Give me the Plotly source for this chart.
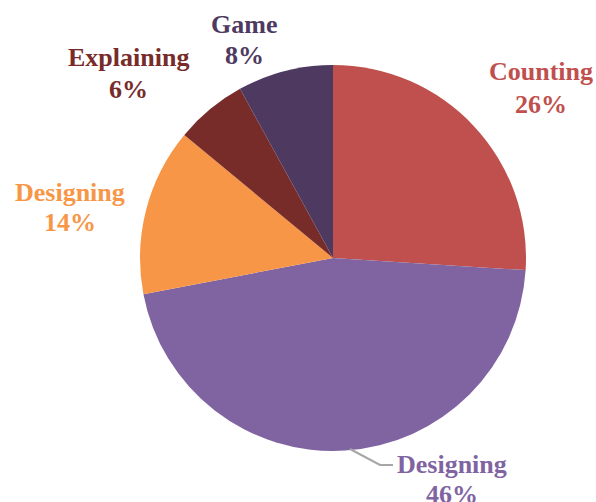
import plotly.graph_objects as go

labels = ["Counting", "Designing", "Designing", "Explaining", "Game"]
values = [26, 46, 14, 6, 8]
colors = ["#C0504D", "#8064A2", "#F79646", "#772C2A", "#4E3A60"]

W, H = 596, 502
cx, cy, r = 333, 258, 193

fig = go.Figure(go.Pie(
    labels=[f"{l} {i}" for i, l in enumerate(labels)],
    values=values,
    sort=False,
    direction="clockwise",
    rotation=0,
    marker=dict(colors=colors, line=dict(width=0)),
    textinfo="none",
    hoverinfo="label+percent",
    showlegend=False,
    domain=dict(x=[(cx - r) / W, (cx + r) / W], y=[(H - cy - r) / H, (H - cy + r) / H]),
))

# label placements (pixel centers of the two text lines)
label_pos = [(541, 72, 104), (452, 464, 494), (70, 192, 222), (128, 57, 89), (244, 25, 55)]
total = sum(values)
for (x, y1, y2), l, v, c in zip(label_pos, labels, values, colors):
    for txt, y in ((l, y1), (f"{round(100 * v / total)}%", y2)):
        fig.add_annotation(
            text=f"<b>{txt}</b>", x=x / W, y=1 - y / H, xref="paper", yref="paper",
            showarrow=False, xanchor="center", yanchor="middle",
            font=dict(family="Liberation Serif, Times New Roman, serif", size=26, color=c),
        )

# leader line for the bottom label
fig.add_shape(type="path", xref="paper", yref="paper",
              path=f"M {350/W} {1-449/H} L {380/W} {1-465/H} L {393/W} {1-465/H}",
              line=dict(color="#A6A6A6", width=2))

fig.update_layout(width=W, height=H, margin=dict(l=0, r=0, t=0, b=0),
                  paper_bgcolor="white", plot_bgcolor="white")
fig.write_html("out.html")
